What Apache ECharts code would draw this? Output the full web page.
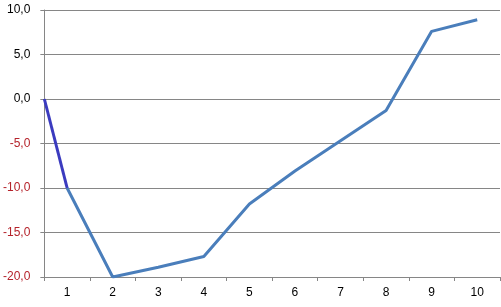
<!DOCTYPE html>
<html>
<head>
<meta charset="utf-8">
<script src="https://cdn.jsdelivr.net/npm/echarts@6/dist/echarts.min.js"></script>
<style>html,body{margin:0;padding:0;background:#fff}#c{width:501px;height:307px}</style>
</head>
<body>
<div id="c"></div>
<script>
var categories = ['1','2','3','4','5','6','7','8','9','10'];
var positions = [1,2,3,4,5,6,7,8,9,10];
var values = [-10, -20, -18.9, -17.7, -11.8, -8.1, -4.7, -1.3, 7.6, 8.9];
var startPoint = [0.5, 0];
var yTicks = {min: -20, max: 10, interval: 5};

var mainData = positions.map(function(p, i){ return [p, values[i]]; });
var firstSeg = [startPoint, [positions[0], values[0]]];

var chart = echarts.init(document.getElementById('c'), null, {renderer:'canvas'});
chart.setOption({
  animation: false,
  grid: {left: 44, right: 1, top: 10, bottom: 30, containLabel: false},
  xAxis: [{
    type: 'category',
    data: categories,
    boundaryGap: true,
    axisLine: {onZero: false, lineStyle: {color: '#868686', width: 1}},
    axisTick: {show: true, length: 4, inside: false, lineStyle: {color: '#868686'}},
    axisLabel: {color: '#000', fontFamily: 'Liberation Sans', fontSize: 12, margin: 10},
    splitLine: {show: false}
  }, {
    type: 'value',
    min: 0.5, max: 10.5,
    show: false
  }],
  yAxis: {
    type: 'value',
    min: yTicks.min, max: yTicks.max, interval: yTicks.interval,
    axisLine: {show: true, lineStyle: {color: '#868686', width: 1}},
    axisTick: {show: true, length: 4, lineStyle: {color: '#868686'}},
    axisLabel: {
      fontFamily: 'Liberation Sans', fontSize: 12, margin: 14,
      formatter: function(v){ return v.toFixed(1).replace('.', ','); },
      color: function(v){ return Number(v) < 0 ? '#b5232b' : '#000'; }
    },
    splitLine: {show: true, lineStyle: {color: '#868686', width: 1}}
  },
  series: [{
    type: 'line',
    xAxisIndex: 1,
    data: mainData,
    symbol: 'none',
    lineStyle: {color: '#4a7ebb', width: 3},
    z: 3
  }, {
    type: 'line',
    xAxisIndex: 1,
    data: firstSeg,
    symbol: 'none',
    lineStyle: {color: '#3b3bbf', width: 3},
    z: 4
  }]
});
</script>
</body>
</html>
